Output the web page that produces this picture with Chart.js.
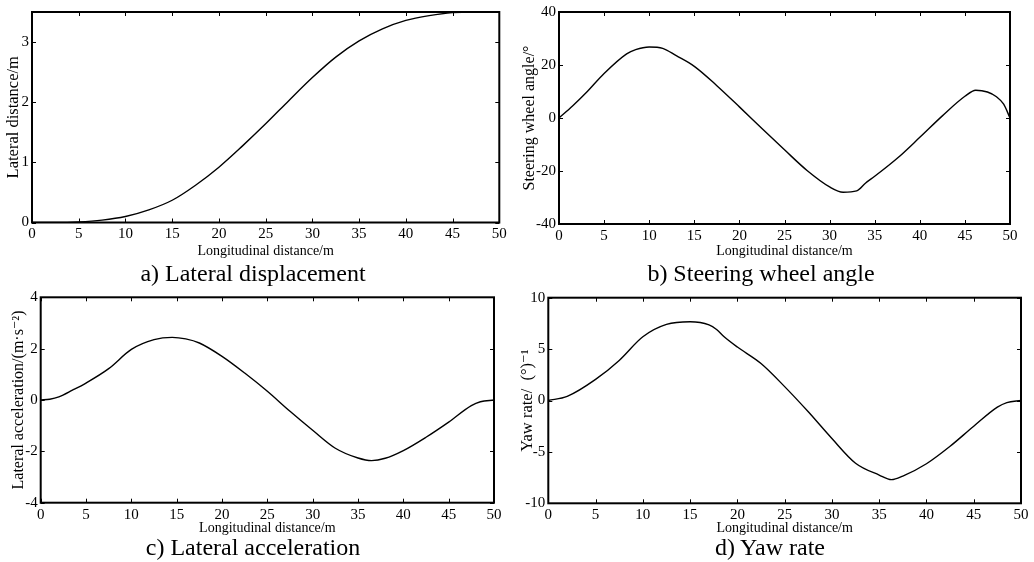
<!DOCTYPE html>
<html><head><meta charset="utf-8">
<script src="https://cdn.jsdelivr.net/npm/chart.js@4/dist/chart.umd.min.js"></script>
<style>
body{margin:0;background:#fff;width:1034px;height:562px;overflow:hidden;position:relative;font-family:"Liberation Serif","DejaVu Serif",serif}
canvas{position:absolute;display:block}
.cap{position:absolute;width:400px;text-align:center;font-size:24px;line-height:24px;color:#000;white-space:nowrap}
</style></head><body>
<canvas id="ca" width="517" height="260" style="left:0;top:0"></canvas>
<canvas id="cb" width="517" height="260" style="left:517px;top:0"></canvas>
<canvas id="cc" width="517" height="257" style="left:0;top:280px"></canvas>
<canvas id="cd" width="517" height="257" style="left:517px;top:280px"></canvas>
<div class="cap" style="left:53px;top:261px">a) Lateral displacement</div>
<div class="cap" style="left:561px;top:261px">b) Steering wheel angle</div>
<div class="cap" style="left:53px;top:535px">c) Lateral acceleration</div>
<div class="cap" style="left:570px;top:535px">d) Yaw rate</div>
<script>
// ---- data ----
const xTicks = [0,5,10,15,20,25,30,35,40,45,50];

const xA = [0,2.5,5,7.5,10,12.5,15,17.5,20,22.5,25,27.5,30,32.5,35,37.5,40,42.5,45,47.5,50];
const yA = [0,0,0.01,0.04,0.10,0.21,0.37,0.62,0.92,1.27,1.64,2.03,2.41,2.75,3.02,3.22,3.36,3.44,3.49,3.5,3.5];
const yTicksA = [0,1,2,3];

const xB = [0,1.5,3,5,7.5,8.5,10,11.5,13,15,17.5,20,22.5,25,27.5,30,31.5,33,34,35,37.5,40,42.5,45,46.2,47.5,48.5,49.3,50];
const yB = [0,4.5,9.5,16.8,24.2,25.8,26.8,26.3,23.5,19.5,12.2,4.2,-4,-12,-19.8,-26,-28,-27.5,-24.5,-22,-15.2,-7.3,0.8,8.2,10.5,9.8,8,5.2,0];
const yTicksB = [-40,-20,0,20,40];

const xC = [0,1,2,3.5,5,7.5,10,12.5,14.5,16,17.5,20,22.5,25,27.5,30,32.5,35,36.5,38,40,42.5,45,47.5,48.5,50];
const yC = [0,0.03,0.12,0.38,0.66,1.22,1.97,2.35,2.44,2.38,2.22,1.7,1.05,0.34,-0.44,-1.18,-1.88,-2.26,-2.36,-2.27,-1.97,-1.45,-0.86,-0.22,-0.07,0];
const yTicksC = [-4,-2,0,2,4];

const xD = [0,2,5,7.5,10,12.5,15,17,17.8,18.6,20,22.5,25,27.5,30,32.5,35,36.3,37.5,40,42.5,45,47.5,48.5,50];
const yD = [0,0.4,2.05,3.9,6.2,7.4,7.66,7.35,6.9,6.2,5.2,3.6,1.35,-1.1,-3.7,-6.1,-7.25,-7.7,-7.35,-6.15,-4.45,-2.5,-0.65,-0.2,0];
const yTicksD = [-10,-5,0,5,10];

const xTitle = 'Longitudinal distance/m';
const FAM = "'Liberation Serif','DejaVu Serif',serif";

const framePlugin = {
  id: 'frame',
  afterDraw(chart) {
    const {ctx, chartArea: a, scales: {x, y}} = chart;
    ctx.save();
    ctx.strokeStyle = '#000';
    ctx.lineWidth = 1;
    ctx.beginPath();
    x.ticks.forEach(t => {
      const p = Math.round(x.getPixelForValue(t.value)) + 0.5;
      ctx.moveTo(p, a.bottom); ctx.lineTo(p, a.bottom - 4);
      ctx.moveTo(p, a.top); ctx.lineTo(p, a.top + 4);
    });
    y.ticks.forEach(t => {
      const p = Math.round(y.getPixelForValue(t.value)) + 0.5;
      ctx.moveTo(a.left, p); ctx.lineTo(a.left + 4, p);
      ctx.moveTo(a.right, p); ctx.lineTo(a.right - 4, p);
    });
    ctx.stroke();
    ctx.lineWidth = 2;
    ctx.strokeRect(a.left, a.top, a.right - a.left, a.bottom - a.top);
    ctx.restore();
  }
};

function make(id, xs, ys, yTicks, yMin, yMax, yTitle, c) {
  const pts = xs.map((v, i) => ({x: v, y: ys[i]}));
  new Chart(document.getElementById(id), {
    type: 'line',
    data: {datasets: [{data: pts, borderColor: '#000', borderWidth: 1.4, pointRadius: 0, fill: false, cubicInterpolationMode: 'monotone'}]},
    options: {
      responsive: false, animation: false, events: [],
      layout: {padding: {top: c.pt, right: c.pr, left: 0, bottom: 0}},
      plugins: {legend: {display: false}, tooltip: {enabled: false}},
      scales: {
        x: {
          type: 'linear', min: 0, max: 50,
          grid: {display: false, drawTicks: false}, border: {display: false},
          afterBuildTicks: s => { s.ticks = xTicks.map(v => ({value: v})); },
          afterFit: s => { s.height = c.xh; },
          ticks: {padding: c.xpad, color: '#000', font: {family: FAM, size: 15}, maxRotation: 0, autoSkip: false},
          title: {display: true, text: xTitle, color: '#000', font: {family: FAM, size: 14}, padding: {top: 0, bottom: c.xtb}}
        },
        y: {
          type: 'linear', min: yMin, max: yMax,
          grid: {display: false, drawTicks: false}, border: {display: false},
          afterBuildTicks: s => { s.ticks = yTicks.map(v => ({value: v})); },
          afterFit: s => { s.width = c.yw; },
          ticks: {padding: 3, color: '#000', font: {family: FAM, size: 15}, autoSkip: false},
          title: {display: true, text: yTitle, color: '#000', font: {family: FAM, size: c.yts}, padding: {top: c.ytp, bottom: 0}}
        }
      }
    },
    plugins: [framePlugin]
  });
}

make('ca', xA, yA, yTicksA, 0, 3.5, 'Lateral distance/m',
  {pt: 10, pr: 17.7, yw: 32, xh: 37.5, xpad: 3, xtb: 0.6, yts: 16.5, ytp: 3.6});
make('cb', xB, yB, yTicksB, -40, 40, 'Steering wheel angle/°',
  {pt: 10, pr: 24, yw: 42, xh: 36, xpad: 3, xtb: 0.6, yts: 16, ytp: 3.4});
make('cc', xC, yC, yTicksC, -4, 4, 'Lateral acceleration/(m·s⁻²)',
  {pt: 17.3, pr: 23, yw: 40.7, xh: 34.3, xpad: 3, xtb: 0.6, yts: 16, ytp: 9.4});
make('cd', xD, yD, yTicksD, -10, 10, 'Yaw rate/  (°)⁻¹',
  {pt: 17.7, pr: 13, yw: 31.3, xh: 33.7, xpad: 3, xtb: 0, yts: 16.5, ytp: 0.6});
</script>
</body></html>
